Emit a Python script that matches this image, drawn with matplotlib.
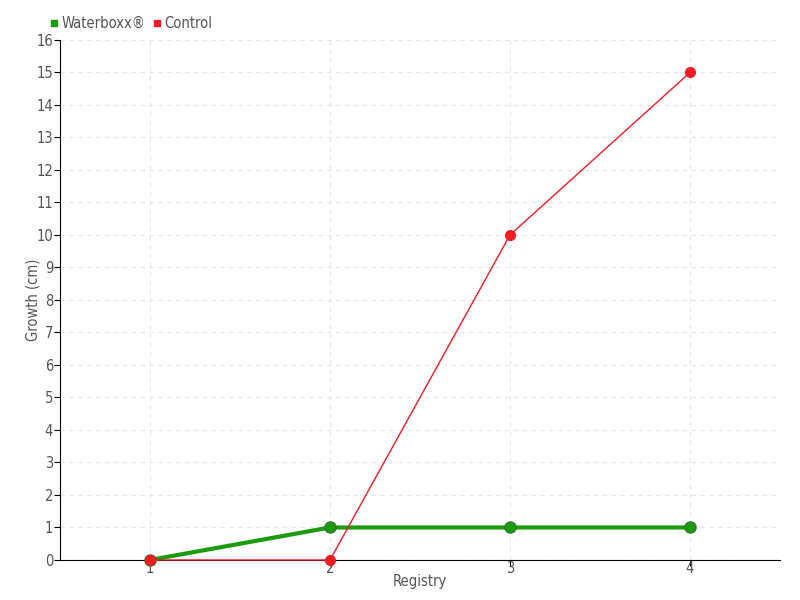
import matplotlib
matplotlib.use("Agg")
import matplotlib.pyplot as plt
from matplotlib.lines import Line2D

registry = [1, 2, 3, 4]
waterboxx = [0, 1, 1, 1]
control = [0, 0, 10, 15]

C_GREEN = "#1a9c0e"
C_RED = "#ee1c25"
C_TEXT = "#555555"

plt.rcParams["font.family"] = ["DejaVu Sans"]
plt.rcParams["font.stretch"] = "condensed"

fig = plt.figure(figsize=(8, 6), dpi=100)
ax = fig.add_axes([0.075, 0.0667, 0.9, 0.8667])

ax.plot(registry, waterboxx, "-o", color=C_GREEN, linewidth=3, markersize=8,
        markeredgecolor="#2f7a22", zorder=3, clip_on=False)
ax.plot(registry, control, "-o", color=C_RED, linewidth=1, markersize=7,
        markeredgecolor=C_RED, zorder=4, clip_on=False)

ax.set_xlim(0.5, 4.5)
ax.set_ylim(0, 16)
ax.set_xticks(registry)
ax.set_yticks(range(0, 17))
ax.grid(True, color="#e4e4e4", linestyle=(0, (4, 4)), linewidth=0.8)
ax.set_axisbelow(True)
for s in ["top", "right"]:
    ax.spines[s].set_visible(False)
ax.tick_params(colors="black", labelcolor=C_TEXT, labelsize=10.5, length=4, pad=1)
ax.tick_params(axis="x", pad=-3)

ax.set_xlabel("Registry", fontsize=10.5, color=C_TEXT, labelpad=-2)
ax.set_ylabel("Growth (cm)", fontsize=10.5, color=C_TEXT, labelpad=-3)

handles = [
    Line2D([], [], marker="s", linestyle="none", color=C_GREEN, markersize=5),
    Line2D([], [], marker="s", linestyle="none", color=C_RED, markersize=5),
]
leg = fig.legend(handles, ["Waterboxx®", "Control"], loc="upper left",
                 bbox_to_anchor=(0.046, 0.995), ncol=2, frameon=False,
                 handlelength=0.6, handletextpad=0.2, columnspacing=0.5,
                 fontsize=10.5)
for t in leg.get_texts():
    t.set_color(C_TEXT)

fig.savefig("out.png", dpi=100)
